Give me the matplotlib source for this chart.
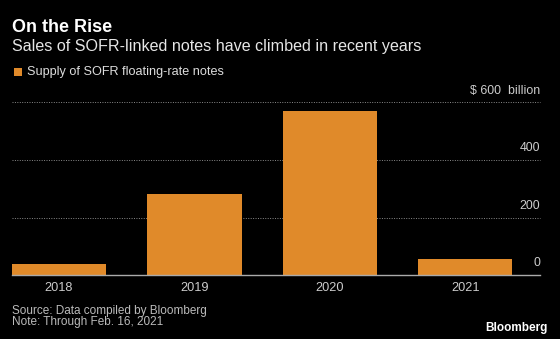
import matplotlib.pyplot as plt
from matplotlib.patches import Rectangle

years = ["2018", "2019", "2020", "2021"]
supply = [37, 281, 570, 55]  # $ billion
yticks = [0, 200, 400, 600]
ytick_labels = ["0", "200", "400", "$ 600  billion"]

bar_color = "#E08A2A"
bg = "black"
plt.rcParams['font.family'] = ['Liberation Sans', 'DejaVu Sans']

fig = plt.figure(figsize=(5.6, 3.39), dpi=100, facecolor=bg)
W, H = 560, 339
x0, x1, ybase, ytop = 12, 540, 275, 102.5
ax = fig.add_axes([x0 / W, 1 - ybase / H, (x1 - x0) / W, (ybase - ytop) / H])
ax.set_facecolor(bg)

x = range(len(years))
ax.bar(x, supply, width=0.694, color=bar_color, zorder=2)
ax.set_xlim(-0.347, 3.55)
ax.set_ylim(0, 600)

for t in yticks[1:]:
    ax.axhline(t, color="#8a8a8a", linestyle=(0, (1, 1.5)), linewidth=0.7,
               zorder=1, clip_on=False)
ax.axhline(0, color="#aaaaaa", linewidth=1.0, zorder=3, clip_on=False)

# value labels sit above each gridline at the right edge
for t, lab in zip(yticks, ytick_labels):
    ax.annotate(lab, xy=(1, t), xycoords=("axes fraction", "data"),
                xytext=(0, 8.5), textcoords="offset points",
                ha="right", va="center", color="#cccccc", fontsize=8.9)

ax.set_xticks(list(x))
ax.set_xticklabels(years, color="#cccccc", fontsize=9.2)
ax.tick_params(axis="x", length=0, pad=5)
ax.set_yticks([])
for s in ax.spines.values():
    s.set_visible(False)

fig.text(12 / W, 1 - 28 / H, "On the Rise", color="white", fontsize=13,
         fontweight="bold", va="center")
fig.text(12 / W, 1 - 47 / H, "Sales of SOFR-linked notes have climbed in recent years",
         color="#e6e6e6", fontsize=11.6, va="center")
fig.patches.append(Rectangle((14 / W, 1 - 76 / H), 7.5 / W, 8 / H, transform=fig.transFigure,
                             facecolor=bar_color, edgecolor="none"))
fig.text(27 / W, 1 - 72 / H, "Supply of SOFR floating-rate notes", color="#dddddd",
         fontsize=9.1, va="center")
fig.text(12 / W, 1 - 311 / H, "Source: Data compiled by Bloomberg", color="#bbbbbb",
         fontsize=8.5, va="center")
fig.text(12 / W, 1 - 322.5 / H, "Note: Through Feb. 16, 2021", color="#bbbbbb",
         fontsize=8.5, va="center")
fig.text(548 / W, 1 - 328 / H, "Bloomberg", color="white", fontsize=8.5,
         fontweight="bold", ha="right", va="center")

fig.savefig("out.png", dpi=100, facecolor=bg)
